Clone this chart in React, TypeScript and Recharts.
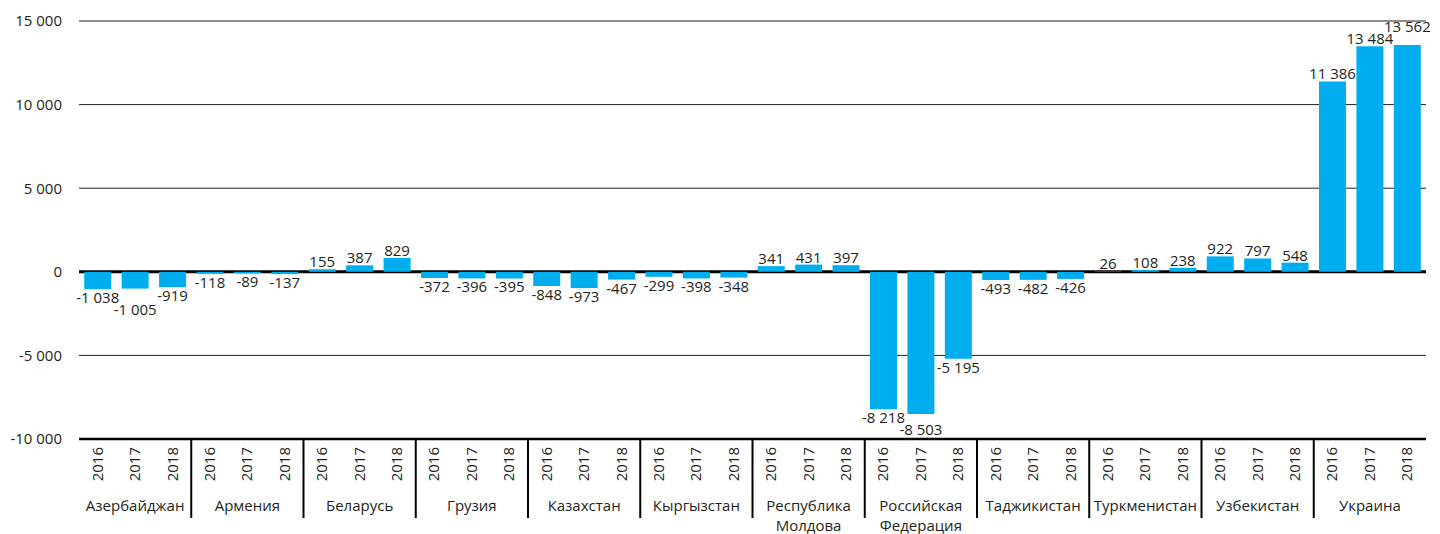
import React from 'react';
import {
  BarChart,
  Bar,
  XAxis,
  YAxis,
  CartesianGrid,
  LabelList,
} from 'recharts';

const countries = [
  'Азербайджан',
  'Армения',
  'Беларусь',
  'Грузия',
  'Казахстан',
  'Кыргызстан',
  'Республика Молдова',
  'Российская Федерация',
  'Таджикистан',
  'Туркменистан',
  'Узбекистан',
  'Украина',
];

const years = ['2016', '2017', '2018'];

const values2016 = [-1038, -118, 155, -372, -848, -299, 341, -8218, -493, 26, 922, 11386];
const values2017 = [-1005, -89, 387, -396, -973, -398, 431, -8503, -482, 108, 797, 13484];
const values2018 = [-919, -137, 829, -395, -467, -348, 397, -5195, -426, 238, 548, 13562];

const yTicks = [-10000, -5000, 0, 5000, 10000, 15000];

const byYear = [values2016, values2017, values2018];

const data = countries.flatMap((country, ci) =>
  years.map((year, yi) => ({
    key: `${ci}-${year}`,
    country,
    year,
    value: byYear[yi][ci],
  }))
);

const W = 1440;
const H = 534;
const MARGIN = { top: 21, right: 14, bottom: 0, left: 0 };
const Y_AXIS_W = 79;
const X_AXIS_H = 95;
const PLOT_W = W - MARGIN.left - MARGIN.right - Y_AXIS_W;
const BAND = PLOT_W / data.length;

const FONT = '"Open Sans", sans-serif';
const TEXT = '#231F20';
const BLUE = '#00AEEF';

const fmt = (v: number) => {
  const s = String(Math.abs(v)).replace(/\B(?=(\d{3})+(?!\d))/g, ' ');
  return v < 0 ? '-' + s : s;
};

// label boxes, filled in order so a label can step aside from its neighbour
const placed: { cx: number; w: number; top: number }[] = [];
const CAP = 11;

const ValueLabel = (props: any) => {
  const { x, y, width, height, value, index } = props;
  const v = Number(value);
  const cx = x + width / 2;
  const top = Math.min(y, y + height);
  const bottom = Math.max(y, y + height);
  const label = fmt(v);
  const w = label.length * 8;
  let textTop = v < 0 ? bottom + 3 : top - 2 - CAP;
  const prev = placed[index - 1];
  if (
    prev &&
    Math.abs(cx - prev.cx) < (w + prev.w) / 2 &&
    textTop < prev.top + CAP &&
    textTop + CAP > prev.top
  ) {
    textTop = v < 0 ? prev.top + CAP + 1 : prev.top - CAP - 1;
  }
  placed[index] = { cx, w, top: textTop };
  return (
    <text
      x={cx}
      y={textTop + CAP}
      textAnchor="middle"
      fontFamily={FONT}
      fontSize={15}
      fill={TEXT}
    >
      {label}
    </text>
  );
};

const XTick = (props: any) => {
  const { x, y, payload } = props;
  const i = payload.index;
  const row = data[i];
  const lines = row.country.split(' ');
  return (
    <g>
      <text
        x={x + 5}
        y={y + 8}
        transform={`rotate(-90, ${x + 5}, ${y + 8})`}
        textAnchor="end"
        fontFamily={FONT}
        fontSize={15}
        fill={TEXT}
      >
        {row.year}
      </text>
      {i % 3 === 1 &&
        lines.map((ln: string, li: number) => (
          <text
            key={li}
            x={x}
            y={y + 72 + li * 20}
            textAnchor="middle"
            fontFamily={FONT}
            fontSize={15}
            fill={TEXT}
          >
            {ln}
          </text>
        ))}
      {i % 3 === 2 && i < data.length - 1 && (
        <line
          x1={x + BAND / 2}
          x2={x + BAND / 2}
          y1={y}
          y2={y + 79}
          stroke="#000"
          strokeWidth={2}
        />
      )}
    </g>
  );
};

export default function App() {
  placed.length = 0;
  return (
    <div style={{ position: 'absolute', left: 0, top: 0, background: '#fff' }}>
      <BarChart
        width={W}
        height={H}
        data={data}
        margin={MARGIN}
        barCategoryGap="14%"
      >
        <CartesianGrid vertical={false} stroke={TEXT} strokeWidth={1} />
        <CartesianGrid
          vertical={false}
          horizontalValues={[0]}
          stroke="#000"
          strokeWidth={3}
        />
        <XAxis
          dataKey="key"
          height={X_AXIS_H}
          interval={0}
          tickSize={0}
          tickMargin={0}
          tickLine={false}
          axisLine={{ stroke: '#000', strokeWidth: 2.5 }}
          tick={<XTick />}
        />
        <YAxis
          width={Y_AXIS_W}
          domain={[-10000, 15000]}
          ticks={yTicks}
          tickFormatter={fmt}
          axisLine={false}
          tickLine={false}
          tickSize={0}
          tickMargin={17}
          tick={{ fontFamily: FONT, fontSize: 15, fill: TEXT }}
        />
        <Bar dataKey="value" fill={BLUE} isAnimationActive={false}>
          <LabelList dataKey="value" content={<ValueLabel />} />
        </Bar>
      </BarChart>
    </div>
  );
}
